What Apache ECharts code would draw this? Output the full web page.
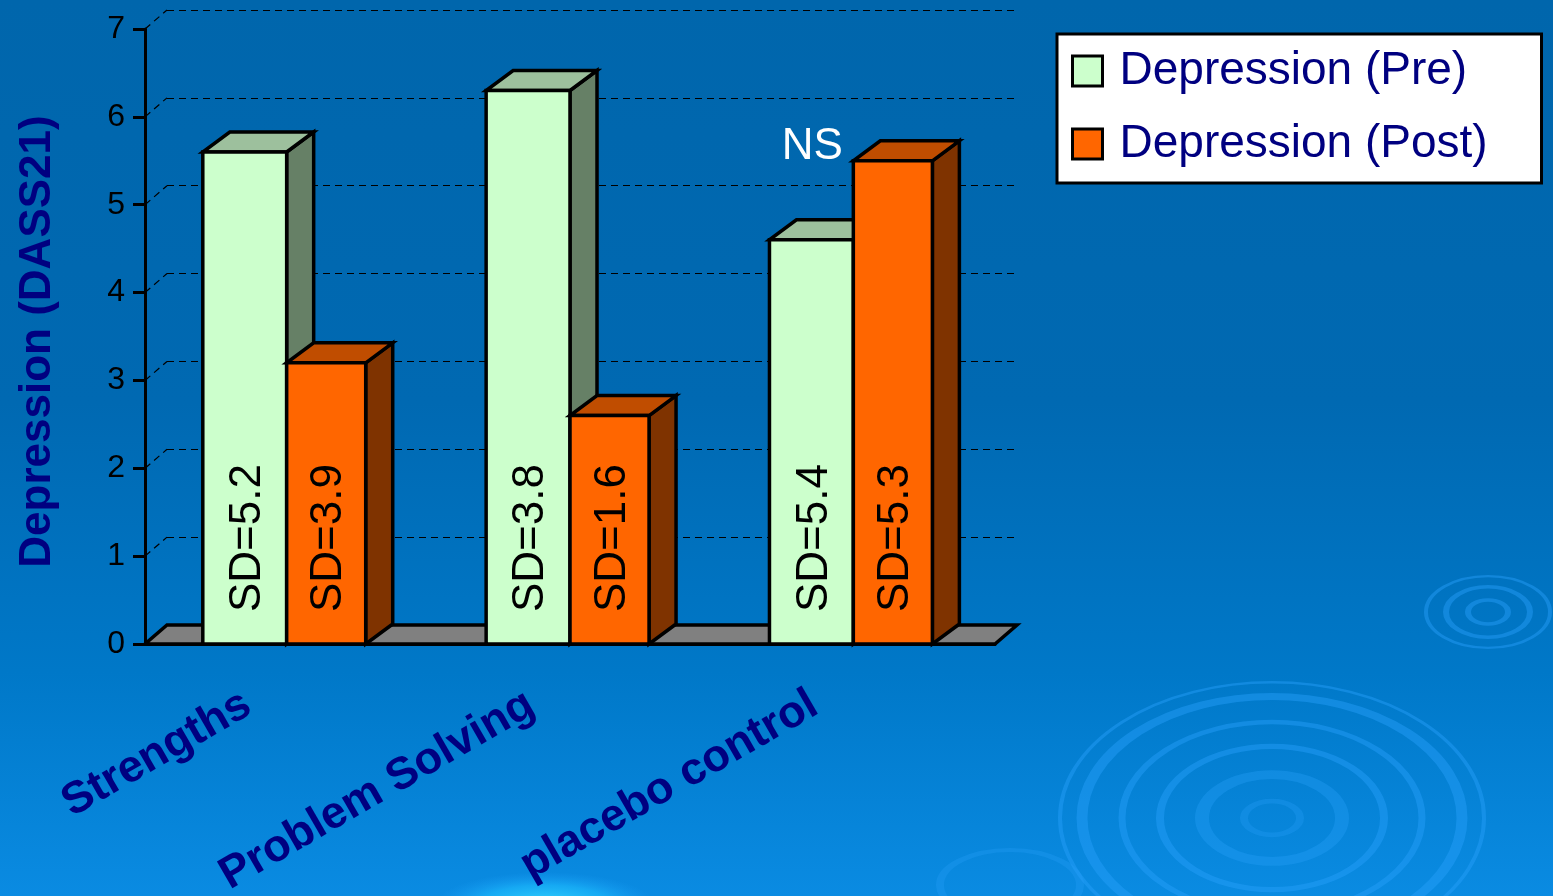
<!DOCTYPE html>
<html>
<head>
<meta charset="utf-8">
<script src="https://cdn.jsdelivr.net/npm/echarts@6/dist/echarts.min.js"></script>
<style>
  html, body { margin: 0; padding: 0; width: 100%; height: 100%; overflow: hidden; }
  #chart { width: 1553px; height: 896px; }
</style>
</head>
<body>
<div id="chart"></div>
<script>
// ---- data ----
const categories = ['Strengths', 'Problem Solving', 'placebo control'];
const seriesNames = ['Depression (Pre)', 'Depression (Post)'];
const preValues = [5.6, 6.3, 4.6];
const postValues = [3.2, 2.6, 5.5];
const preSD = [5.2, 3.8, 5.4];
const postSD = [3.9, 1.6, 5.3];
const postNotes = ['', '', 'NS'];
const yTicks = [0, 1, 2, 3, 4, 5, 6, 7];

// ---- look ----
const FONT = "'Liberation Sans', Arial, Helvetica, sans-serif";
const NAVY = '#000080';
const BAR_DX = 27, BAR_DY = -20;     // bar depth
const WALL_DX = 22, WALL_DY = -19;   // floor / wall depth
const preFaces = { front: '#CCFFCC', top: '#9DC09D', side: '#668066' };
const postFaces = { front: '#FF6600', top: '#C04D00', side: '#7F3300' };

const chart = echarts.init(document.getElementById('chart'));

function barRenderer(isPre, faces, sdList, notes) {
  return function (params, api) {
    const idx = api.value(0);
    const top = api.coord([idx, api.value(1)]);
    const base = api.coord([idx, 0]);
    const band = api.size([1, 0])[0];
    const cx = top[0];
    const w = band * (isPre ? 0.296 : 0.279);
    const x0 = isPre ? cx - w : cx;
    const x1 = x0 + w;
    const yT = top[1], yB = base[1];
    const stroke = { stroke: '#000', lineWidth: 3.5, lineJoin: 'miter' };
    const children = [
      { type: 'polygon', shape: { points: [[x1, yT], [x1 + BAR_DX, yT + BAR_DY], [x1 + BAR_DX, yB + BAR_DY], [x1, yB]] },
        style: Object.assign({ fill: faces.side }, stroke) },
      { type: 'polygon', shape: { points: [[x0, yT], [x1, yT], [x1 + BAR_DX, yT + BAR_DY], [x0 + BAR_DX, yT + BAR_DY]] },
        style: Object.assign({ fill: faces.top }, stroke) },
      { type: 'rect', shape: { x: x0, y: yT, width: w, height: yB - yT },
        style: Object.assign({ fill: faces.front }, stroke) },
      { type: 'text', x: (x0 + x1) / 2 + 3, y: yB - 32, rotation: Math.PI / 2,
        style: { text: 'SD=' + sdList[params.dataIndex].toFixed(1), fill: '#000', fontSize: 44,
                 fontFamily: FONT, align: 'left', verticalAlign: 'middle' } }
    ];
    const note = notes && notes[params.dataIndex];
    if (note) {
      children.push({ type: 'text', x: x0 - 41, y: yT + 8,
        style: { text: note, fill: '#fff', fontSize: 44, fontFamily: FONT, align: 'center', verticalAlign: 'bottom' } });
    }
    return { type: 'group', children: children };
  };
}

// decorative water ripples in the background
function ring(cx, cy, r, sy, lw, color) {
  return { type: 'circle', x: cx, y: cy, scaleY: sy, z: -5, silent: true,
           shape: { cx: 0, cy: 0, r: r }, style: { fill: 'none', stroke: color, lineWidth: lw } };
}
const rippleColor = 'rgba(40,160,250,0.45)';
const ripples = [
  ring(1272, 818, 212, 0.64, 4, rippleColor),
  ring(1272, 818, 190, 0.64, 11, rippleColor),
  ring(1272, 818, 150, 0.64, 7, rippleColor),
  ring(1272, 818, 112, 0.64, 8, rippleColor),
  ring(1272, 818, 70, 0.62, 14, 'rgba(40,160,250,0.35)'),
  ring(1272, 818, 28, 0.6, 8, 'rgba(40,160,250,0.3)'),
  ring(1488, 612, 62, 0.58, 4, rippleColor),
  ring(1488, 612, 42, 0.6, 6, rippleColor),
  ring(1488, 612, 20, 0.6, 6, rippleColor),
  ring(1010, 885, 70, 0.5, 8, 'rgba(40,160,250,0.3)'),
  { type: 'circle', x: 545, y: 905, scaleY: 0.3, z: -5, silent: true, shape: { cx: 0, cy: 0, r: 110 },
    style: { fill: { type: 'radial', x: 0.5, y: 0.5, r: 0.5,
      colorStops: [{ offset: 0, color: 'rgba(60,220,255,0.95)' }, { offset: 0.6, color: 'rgba(30,190,255,0.6)' }, { offset: 1, color: 'rgba(30,160,250,0)' }] } } }
];

const option = {
  animation: false,
  backgroundColor: {
    type: 'linear', x: 0, y: 0, x2: 0, y2: 1,
    colorStops: [
      { offset: 0, color: '#0066AC' },
      { offset: 0.45, color: '#0069B2' },
      { offset: 0.75, color: '#0078C8' },
      { offset: 1, color: '#0A8BE2' }
    ]
  },
  graphic: ripples,
  legend: {
    orient: 'vertical', left: 1057, top: 34,
    backgroundColor: '#fff', borderColor: '#000', borderWidth: 3,
    padding: [12, 10, 14, 14], itemGap: 23,
    itemWidth: 30, itemHeight: 30, icon: 'rect',
    itemStyle: { borderColor: '#000', borderWidth: 3 },
    textStyle: { fontSize: 46, color: NAVY, fontFamily: FONT, lineHeight: 50, width: 412, padding: [0, 0, 0, 12] },
    data: seriesNames
  },
  grid: [
    { left: 145, right: 558, top: 29, bottom: 252, outerBoundsMode: 'none' },
    { left: 145 + WALL_DX, right: 558 - WALL_DX, top: 29 + WALL_DY, bottom: 252 - WALL_DY, outerBoundsMode: 'none' }
  ],
  xAxis: [
    { type: 'category', gridIndex: 0, data: categories,
      axisLine: { lineStyle: { color: '#000', width: 3 } },
      axisTick: { length: 13, lineStyle: { color: '#000', width: 3 } },
      axisLabel: { rotate: 30, margin: 35, padding: [0, 45, 0, 0], interval: 0,
                   fontSize: 45, fontWeight: 'bold', color: NAVY, fontFamily: FONT } },
    { type: 'category', gridIndex: 1, data: categories, show: false }
  ],
  yAxis: [
    { type: 'value', gridIndex: 0, min: 0, max: 7, interval: 1,
      name: 'Depression (DASS21)', nameLocation: 'middle', nameGap: 85,
      nameTextStyle: { fontSize: 44, fontWeight: 'bold', color: NAVY, fontFamily: FONT, padding: [0, 10, 0, 0] },
      axisLine: { show: true, lineStyle: { color: '#000', width: 3 } },
      axisTick: { show: true, length: 12, lineStyle: { color: '#000', width: 3 } },
      axisLabel: { margin: 20, fontSize: 32, color: '#000', fontFamily: FONT },
      splitLine: { show: false } },
    { type: 'value', gridIndex: 1, min: 0, max: 7, interval: 1,
      axisLine: { show: false }, axisTick: { show: false }, axisLabel: { show: false },
      splitLine: { show: true, lineStyle: { color: '#000', width: 1.2, type: [7, 5] } } }
  ],
  series: [
    { // floor of the plot
      type: 'custom', silent: true, xAxisIndex: 0, yAxisIndex: 0, z: 1,
      data: [[0, 0]],
      renderItem: function (params, api) {
        const cs = params.coordSys;
        const yb = api.coord([0, 0])[1];
        const xa = cs.x, xb = cs.x + cs.width;
        return { type: 'polygon',
          shape: { points: [[xa, yb], [xb, yb], [xb + WALL_DX, yb + WALL_DY], [xa + WALL_DX, yb + WALL_DY]] },
          style: { fill: '#808080', stroke: '#000', lineWidth: 3.5, lineJoin: 'miter' } };
      }
    },
    { // dashed links from the value ticks to the back wall
      type: 'custom', silent: true, xAxisIndex: 0, yAxisIndex: 0, z: 0,
      data: yTicks.map(v => [0, v]),
      renderItem: function (params, api) {
        const cs = params.coordSys;
        const y = api.coord([0, api.value(1)])[1];
        return { type: 'line', shape: { x1: cs.x, y1: y, x2: cs.x + WALL_DX, y2: y + WALL_DY },
                 style: { stroke: '#000', lineWidth: 1.2, lineDash: [7, 5] } };
      }
    },
    { name: seriesNames[0], type: 'custom', xAxisIndex: 0, yAxisIndex: 0, z: 2,
      itemStyle: { color: preFaces.front },
      data: preValues.map((v, i) => [i, v]),
      encode: { x: 0, y: 1 },
      renderItem: barRenderer(true, preFaces, preSD, null) },
    { name: seriesNames[1], type: 'custom', xAxisIndex: 0, yAxisIndex: 0, z: 3,
      itemStyle: { color: postFaces.front },
      data: postValues.map((v, i) => [i, v]),
      encode: { x: 0, y: 1 },
      renderItem: barRenderer(false, postFaces, postSD, postNotes) }
  ]
};
chart.setOption(option);
</script>
</body>
</html>
